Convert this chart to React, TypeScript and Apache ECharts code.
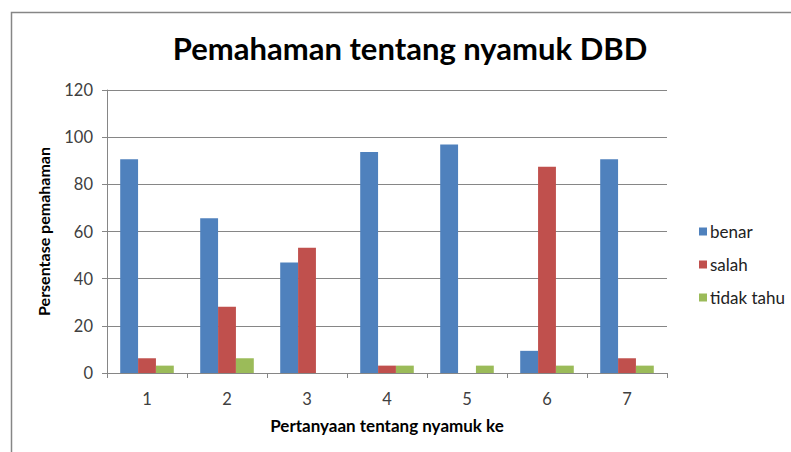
import React, { useEffect, useRef } from "react";
import * as echarts from "echarts";

const categories = ["1", "2", "3", "4", "5", "6", "7"];
const benar = [90.6, 65.6, 46.9, 93.75, 96.9, 9.4, 90.6];
const salah = [6.25, 28.1, 53.1, 3.125, 0, 87.5, 6.25];
const tidakTahu = [3.125, 6.25, 0, 3.125, 3.125, 3.125, 3.125];
const yTicks = { min: 0, max: 120, interval: 20 };

const FONT = "Lato";

export default function App() {
  const ref = useRef<HTMLDivElement>(null);
  useEffect(() => {
    document.body.style.margin = "0";
    const chart = echarts.init(ref.current!, null, { renderer: "svg" });
    const gray = "#868686";
    chart.setOption({
      animation: false,
      backgroundColor: "#ffffff",
      textStyle: { fontFamily: FONT },
      title: {
        text: "Pemahaman tentang nyamuk DBD",
        left: 405,
        top: 27,
        textAlign: "center",
        textStyle: { fontFamily: FONT, fontWeight: "bold", fontSize: 31, color: "#000000" },
      },
      graphic: [
        {
          type: "rect",
          shape: { x: 11.5, y: 12.5, width: 900, height: 600 },
          style: { fill: "none", stroke: gray, lineWidth: 1.5 },
          silent: true,
        },
      ],
      legend: {
        orient: "vertical",
        left: 694,
        top: 218,
        itemWidth: 8,
        itemHeight: 8,
        itemGap: 16,
        icon: "rect",
        textStyle: { fontFamily: FONT, fontSize: 17, color: "#222222", padding: [0, 0, 0, -2] },
        data: ["benar", "salah", "tidak tahu"],
      },
      grid: { left: 107, right: 124, top: 90, bottom: 79, containLabel: false },
      xAxis: {
        type: "category",
        data: categories,
        name: "Pertanyaan tentang nyamuk ke",
        nameLocation: "middle",
        nameGap: 44,
        nameTextStyle: { fontFamily: FONT, fontWeight: "bold", fontSize: 17, color: "#000000" },
        axisLine: { lineStyle: { color: gray, width: 1 } },
        axisTick: { show: true, length: 5, lineStyle: { color: gray } },
        axisLabel: { fontFamily: FONT, fontSize: 16.5, color: "#404040", margin: 17 },
      },
      yAxis: {
        type: "value",
        min: yTicks.min,
        max: yTicks.max,
        interval: yTicks.interval,
        name: "Persentase pemahaman",
        nameLocation: "middle",
        nameGap: 56,
        nameRotate: 90,
        nameTextStyle: { fontFamily: FONT, fontWeight: "bold", fontSize: 16, color: "#000000" },
        axisLine: { show: true, lineStyle: { color: gray, width: 1 } },
        axisTick: { show: true, length: 5, lineStyle: { color: gray } },
        axisLabel: { fontFamily: FONT, fontSize: 16.5, color: "#404040", margin: 14 },
        splitLine: { show: true, lineStyle: { color: gray, width: 1 } },
      },
      series: [
        { name: "benar", type: "bar", data: benar, itemStyle: { color: "#4f81bd" }, barGap: "0%", barCategoryGap: "33%" },
        { name: "salah", type: "bar", data: salah, itemStyle: { color: "#c0504d" }, barGap: "0%", barCategoryGap: "33%" },
        { name: "tidak tahu", type: "bar", data: tidakTahu, itemStyle: { color: "#9bbb59" }, barGap: "0%", barCategoryGap: "33%" },
      ],
    });
    return () => chart.dispose();
  }, []);
  return <div ref={ref} style={{ width: 791, height: 452 }} />;
}
